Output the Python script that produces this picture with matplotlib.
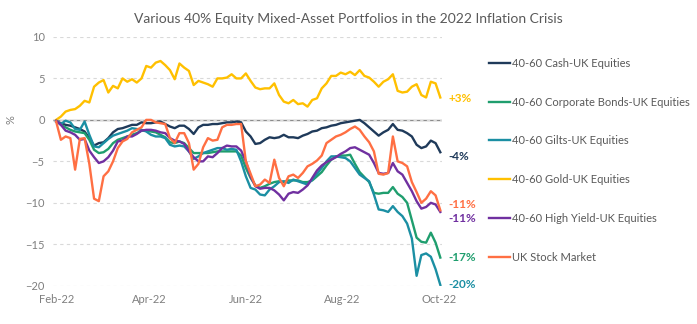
import pandas as pd
import matplotlib
matplotlib.use("Agg")
import matplotlib.pyplot as plt
import matplotlib.dates as mdates

# cumulative return (%) sampled every 3 days from 1 Feb 2022
dates = pd.date_range("2022-02-01", periods=82, freq="3D")

cash = [
    -0.2, -0.4, -0.6, -0.7, -0.9, -1.1, -1.4, -2.2, -3.1, -2.8,
    -2.7, -2.2, -1.5, -1.1, -1.0, -0.8, -0.6, -0.6, -0.3, -0.4,
    -0.4, -0.3, -0.2, -0.5, -0.8, -1.0, -0.7, -0.7, -1.1, -1.7,
    -0.9, -0.6, -0.6, -0.5, -0.5, -0.4, -0.3, -0.3, -0.2, -0.3,
    -1.4, -2.0, -2.9, -2.8, -2.4, -2.1, -2.2, -2.1, -1.8, -2.1,
    -2.1, -2.2, -1.9, -1.7, -1.4, -1.3, -1.0, -0.9, -0.7, -0.6,
    -0.4, -0.3, -0.2, -0.1, 0.0, -0.4, -0.9, -1.4, -1.9, -1.5,
    -1.2, -0.5, -1.2, -1.3, -1.6, -2.0, -3.0, -3.4, -3.2, -2.5,
    -2.8, -3.9,
]
corp_bonds = [
    -0.1, -0.6, -0.9, -1.2, -1.4, -1.5, -1.6, -2.4, -3.6, -4.0,
    -3.9, -3.5, -2.8, -2.4, -2.2, -2.0, -1.8, -1.6, -1.3, -1.3,
    -1.4, -1.5, -1.8, -2.1, -2.7, -2.8, -2.6, -2.8, -3.4, -4.0,
    -4.0, -4.0, -4.0, -3.9, -3.8, -3.8, -3.8, -3.8, -3.8, -4.3,
    -5.8, -7.0, -7.9, -8.2, -8.0, -7.7, -7.5, -7.4, -7.5, -7.3,
    -7.3, -7.3, -7.5, -7.5, -7.3, -6.8, -6.3, -5.5, -4.8, -4.4,
    -4.3, -4.3, -4.2, -5.3, -6.3, -6.9, -7.5, -8.8, -8.9, -8.8,
    -8.8, -8.1, -8.9, -9.3, -10.0, -12.1, -14.2, -14.7, -14.8, -13.6,
    -14.8, -16.6,
]
gilts = [
    -0.1, -0.5, -0.1, -0.3, -1.1, -1.2, -0.2, -1.8, -3.2, -3.3,
    -2.8, -2.3, -1.9, -1.7, -1.5, -1.3, -1.0, -1.1, -1.2, -1.4,
    -1.8, -2.0, -2.0, -2.2, -3.0, -3.2, -3.1, -3.2, -3.8, -4.7,
    -4.4, -4.0, -3.8, -3.6, -3.4, -3.4, -3.6, -3.5, -3.6, -5.0,
    -6.8, -8.2, -8.4, -9.0, -9.1, -8.4, -8.0, -7.5, -7.4, -7.6,
    -7.2, -7.4, -7.6, -7.8, -7.2, -6.5, -5.8, -5.0, -4.4, -4.4,
    -4.5, -4.6, -5.0, -5.8, -6.6, -7.0, -7.4, -9.0, -10.8, -10.9,
    -11.1, -10.4, -11.1, -11.6, -12.5, -14.3, -18.8, -16.3, -16.1, -16.5,
    -18.0, -19.9,
]
gold = [
    0.0, 0.4, 1.0, 1.2, 1.3, 1.7, 2.3, 2.1, 4.0, 4.5,
    4.8, 3.3, 4.1, 3.8, 5.0, 4.6, 4.9, 4.5, 5.0, 6.5,
    6.3, 6.9, 7.1, 6.6, 6.0, 4.9, 6.8, 6.3, 5.9, 4.2,
    4.7, 4.5, 4.3, 4.0, 5.0, 5.0, 5.1, 5.5, 5.0, 5.0,
    5.6, 4.7, 3.9, 3.7, 3.8, 3.8, 4.4, 3.0, 2.2, 2.0,
    2.4, 1.9, 2.0, 1.6, 2.4, 2.6, 3.8, 4.4, 5.3, 5.3,
    5.7, 5.5, 5.8, 5.4, 6.0, 5.3, 5.1, 4.6, 4.0, 4.6,
    4.9, 5.5, 3.5, 3.3, 3.4, 4.0, 4.3, 3.0, 2.7, 4.6,
    4.4, 2.7,
]
high_yield = [
    -0.1, -0.6, -1.3, -1.5, -1.8, -2.4, -2.3, -3.7, -4.5, -5.2,
    -5.0, -4.5, -3.7, -2.6, -2.5, -2.0, -2.0, -1.7, -1.3, -1.2,
    -1.2, -1.3, -1.5, -1.6, -2.2, -2.5, -2.6, -2.9, -3.8, -4.5,
    -5.0, -5.0, -4.4, -4.5, -4.0, -3.4, -3.1, -3.2, -3.2, -3.7,
    -5.0, -6.8, -8.0, -8.3, -8.2, -8.2, -8.5, -9.0, -9.7, -8.9,
    -8.7, -8.8, -8.4, -7.9, -7.0, -6.1, -5.5, -5.1, -4.8, -4.5,
    -4.1, -3.8, -3.4, -3.3, -3.6, -3.9, -4.2, -5.2, -6.4, -6.5,
    -6.4, -5.2, -6.2, -6.6, -7.6, -8.6, -9.8, -10.7, -10.5, -10.0,
    -10.2, -11.1,
]
uk_stocks = [
    -0.2, -2.4, -2.0, -2.2, -6.0, -2.3, -2.2, -5.3, -9.5, -9.8,
    -6.8, -6.2, -5.0, -3.4, -2.6, -2.3, -1.5, -1.2, -0.9, 0.0,
    0.0, -0.3, -0.4, -0.5, -2.2, -2.8, -1.6, -1.6, -2.8, -6.0,
    -5.3, -3.3, -2.2, -2.5, -2.4, -0.9, -0.6, -0.6, -0.5, -0.5,
    -5.0, -6.5, -8.0, -7.8, -7.2, -7.6, -4.8, -7.0, -8.0, -6.8,
    -6.6, -7.0, -6.4, -5.6, -5.3, -4.9, -4.3, -2.8, -2.4, -2.0,
    -1.8, -1.5, -1.1, -0.8, -1.2, -2.0, -2.7, -3.8, -6.5, -6.6,
    -6.4, -2.0, -5.0, -5.2, -5.6, -7.5, -8.7, -10.0, -9.5, -8.6,
    -9.1, -10.9,
]

series_names = [
    "40-60 Cash-UK Equities",
    "40-60 Corporate Bonds-UK Equities",
    "40-60 Gilts-UK Equities",
    "40-60 Gold-UK Equities",
    "40-60 High Yield-UK Equities",
    "UK Stock Market",
]
series_values = [cash, corp_bonds, gilts, gold, high_yield, uk_stocks]
series_colors = ["#1f3a5a", "#1f9e6e", "#1b8fa3", "#ffc000", "#7030a0", "#ff6f43"]
# vertical shift (points) for end labels so the two -11% tags don't collide
label_shift = [-3, 0, 0, -1, -5, 4]

text_grey = "#7f7f7f"
plt.rcParams["font.family"] = ["Lato", "DejaVu Sans"]

fig = plt.figure(figsize=(6.97, 3.24), dpi=100)
ax = fig.add_axes([0.076, 0.118, 0.558, 0.768])

for name, vals, col, dy in zip(series_names, series_values, series_colors, label_shift):
    ax.plot(dates, vals, color=col, lw=1.7, label=name)
    ax.annotate(f"{round(vals[-1]):+d}%", xy=(dates[-1], vals[-1]),
                xytext=(6, dy), textcoords="offset points",
                ha="left", va="center", color=col, fontsize=8.5,
                fontweight="bold")

ax.set_ylim(-20, 10)
ax.set_yticks([-20, -15, -10, -5, 0, 5, 10])
ax.set_xlim(pd.Timestamp("2022-01-30"), pd.Timestamp("2022-10-03"))
ax.xaxis.set_major_locator(mdates.MonthLocator(bymonth=[2, 4, 6, 8, 10]))
ax.xaxis.set_major_formatter(mdates.DateFormatter("%b-%y"))

ax.grid(axis="y", color="#d9d9d9", ls=(0, (3, 3)), lw=0.8)
ax.axhline(0, color="#8c8c8c", lw=1.0, zorder=1)
for s in ax.spines.values():
    s.set_visible(False)
ax.tick_params(length=0, labelsize=8, labelcolor=text_grey, pad=6)
ax.set_ylabel("%", color=text_grey, fontsize=8)
ax.yaxis.set_label_coords(-0.093, 0.667)

fig.text(0.5, 0.94, "Various 40% Equity Mixed-Asset Portfolios in the 2022 Inflation Crisis",
         ha="center", va="center", fontsize=10, color="#595959")

ax.legend(loc="upper left", bbox_to_anchor=(1.11, 0.934), frameon=False,
          fontsize=8, labelcolor="#595959", handlelength=1.9,
          handletextpad=0.18, labelspacing=2.5, borderaxespad=0)

fig.savefig("out.png", dpi=100)
